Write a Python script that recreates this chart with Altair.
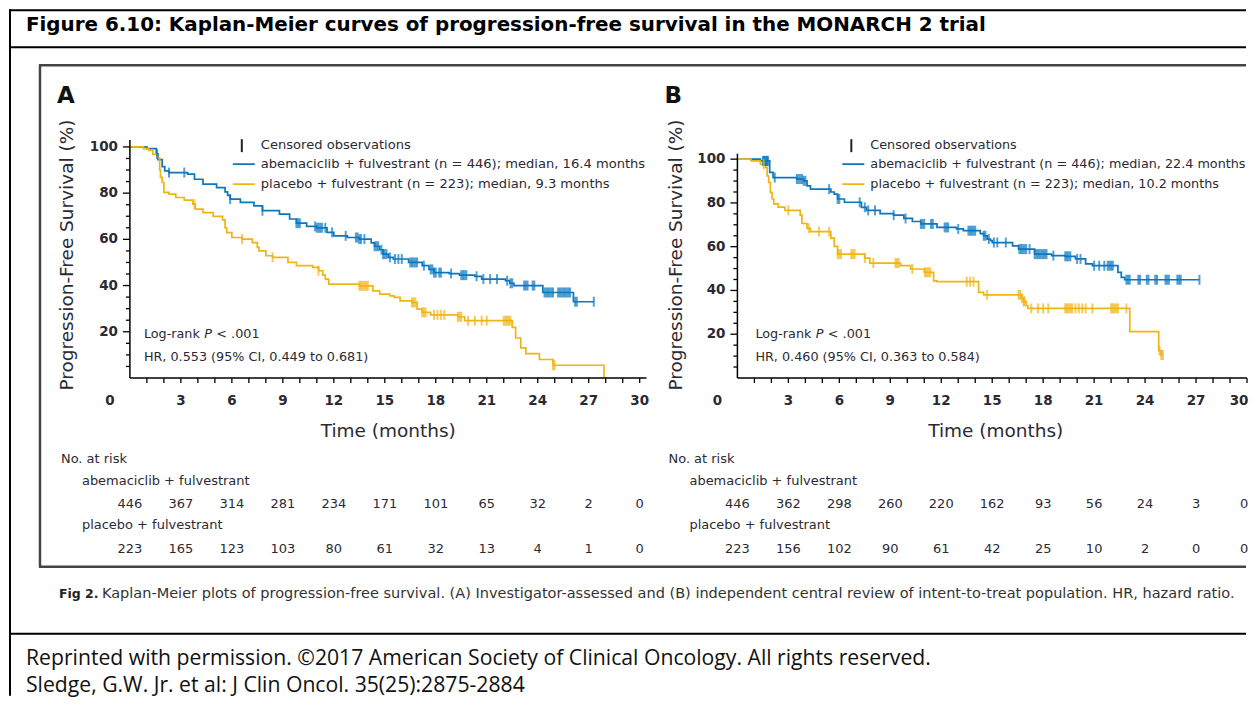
import altair as alt
import pandas as pd

# ---------------- data ----------------
RISK_TIMES = [0, 3, 6, 9, 12, 15, 18, 21, 24, 27, 30]
A_ABEM_RISK = [446, 367, 314, 281, 234, 171, 101, 65, 32, 2, 0]
A_PLAC_RISK = [223, 165, 123, 103, 80, 61, 32, 13, 4, 1, 0]
B_ABEM_RISK = [446, 362, 298, 260, 220, 162, 93, 56, 24, 3, 0]
B_PLAC_RISK = [223, 156, 102, 90, 61, 42, 25, 10, 2, 0, 0]

A_ABEM_T = [0, 1.0, 1.55, 1.65, 1.9, 2.05, 2.3, 3.4, 3.8, 4.3, 5.1, 5.6, 5.75, 5.9, 6.5, 7.3, 7.8, 8.8, 9.4, 9.8,
            10.4, 11.0, 11.6, 12.0, 12.8, 13.5, 14.2, 14.4, 14.7, 14.9, 15.2, 15.5, 16.4, 17.2, 17.6, 17.9, 18.8,
            19.4, 20.3, 20.7, 22.1, 22.35, 22.6, 24.3, 26.1, 27.3]
A_ABEM_S = [100, 99.3, 97, 94.5, 91.5, 89.6, 88.9, 88.2, 86, 83.9, 82.4, 80.5, 79, 77.4, 76, 74.5, 72.4, 70.9, 68.8, 67,
            65.6, 65, 63, 61.5, 60.8, 60.1, 58.5, 57, 55.5, 53.6, 52.2, 51.5, 50, 48.6, 47, 45.6, 45.2,
            44.5, 44, 42.8, 42.1, 41, 40, 37, 33, 33]
A_ABEM_CENS = [1.6, 2.3, 3.2, 5.9, 7.8, 9.8, 9.9, 10.0, 10.9, 11.0, 11.1, 11.2, 11.3, 11.5, 11.9, 12.7, 13.3, 13.4,
               13.5, 13.6, 13.8, 14.4, 14.5, 14.6, 14.8, 14.9, 15.0, 15.1, 15.3, 15.6, 15.8, 16.0, 16.5, 16.6, 16.7,
               16.8, 16.9, 17.3, 17.7, 17.8, 17.9, 18.0, 18.2, 18.3, 18.9, 19.5, 19.6, 19.7, 19.8, 20.4, 20.8, 21.2,
               21.6, 22.2, 22.4, 22.5, 23.2, 23.3, 23.4, 23.7, 23.8, 24.4, 24.5, 24.6, 24.7, 24.8, 24.9, 25.2, 25.3,
               25.4, 25.5, 25.6, 25.7, 25.8, 25.9, 26.2, 26.3, 27.3]

A_PLAC_T = [0, 0.8, 1.1, 1.35, 1.6, 1.75, 1.8, 1.9, 2.0, 2.3, 2.7, 3.2, 3.7, 3.85, 4.3, 4.9, 5.45, 5.6, 5.7, 6.0,
            6.6, 7.2, 7.5, 7.6, 8.0, 8.4, 9.3, 9.8, 10.75, 11.1, 11.35, 11.5, 11.7, 13.5, 14.3, 14.7, 15.3, 15.55,
            15.9, 16.6, 16.9, 17.2, 17.7, 19.3, 19.7, 22.5, 22.7, 23.0, 23.3, 24.1, 24.9, 27.9]
A_PLAC_S = [100, 99.3, 98.5, 96.8, 95.4, 90, 86.8, 84.6, 80.3, 79.6, 78.1, 77, 75.2, 73.1, 71.6, 69.9, 68.4, 65, 62.9,
            60.8, 60.1, 58.6, 56.5, 55, 52.9, 52.2, 50, 48.6, 47.9, 46.4, 44.5, 42.8, 40.6, 39.9, 37.7, 36.3, 35.5,
            34.9, 33.4, 32.7, 29.8, 28.4, 27.3, 26.5, 24.8, 21.9, 17.3, 13, 10.5, 8, 5.5, 0]
A_PLAC_CENS = [3.8, 6.6, 8.4, 11.1, 13.5, 13.6, 13.7, 13.8, 13.9, 14.0, 16.6, 16.7, 16.8, 17.2, 17.3, 17.4, 17.9,
               18.1, 18.3, 18.5, 19.3, 19.4, 19.5, 19.9, 20.3, 20.7, 21.0, 22.0, 22.1, 22.2, 22.3, 22.4, 24.9, 25.0]

B_ABEM_T = [0, 1.35, 1.9, 2.1, 3.5, 3.9, 4.1, 4.3, 5.5, 5.7, 5.9, 6.3, 7.3, 7.6, 8.4, 9.2, 9.8, 10.3, 10.8, 11.75,
            12.9, 13.3, 14.3, 14.5, 14.7, 14.9, 15.0, 16.2, 16.55, 17.5, 18.5, 19.3, 19.9, 20.5, 20.9, 22.4, 22.6,
            22.8, 27.2]
B_ABEM_S = [100, 99.2, 94, 91.6, 90.9, 90.1, 87.8, 86.3, 85, 84, 81.8, 80.3, 78, 76.6, 75.1, 74.4, 72.9, 71.5, 70.4,
            68.8, 68.1, 67.3, 66, 65, 63.5, 62.8, 61.9, 60.4, 58.9, 56.6, 55.9, 55.6, 54.4, 52.1, 51.3, 48.3, 46,
            44.9, 44.9]
B_ABEM_CENS = [1.5, 1.55, 1.6, 1.65, 1.7, 1.75, 1.8, 2.2, 3.5, 3.6, 3.7, 3.8, 3.9, 4.0, 5.4, 5.9, 6.0, 7.2, 7.5, 7.7,
               8.1, 9.2, 9.9, 10.8, 10.9, 11.0, 11.4, 11.5, 12.2, 12.3, 12.4, 13.0, 13.6, 13.7, 13.8, 13.9, 14.0,
               14.5, 14.6, 14.8, 15.1, 15.3, 15.8, 16.6, 16.7, 16.8, 16.9, 17.0, 17.2, 17.5, 17.6, 17.7, 17.8, 17.9,
               18.0, 18.1, 18.2, 18.6, 19.3, 19.4, 19.5, 19.6, 20.0, 20.2, 21.0, 21.3, 21.6, 21.8, 21.9, 22.0, 22.1,
               22.9, 23.0, 23.1, 23.6, 23.7, 24.1, 24.2, 24.6, 24.7, 25.2, 25.3, 25.4, 25.9, 26.0, 26.1, 27.2]

B_PLAC_T = [0, 0.8, 1.35, 1.65, 1.75, 1.84, 1.94, 2.04, 2.14, 2.4, 2.8, 3.7, 3.8, 4.1, 4.3, 5.5, 5.7, 5.9, 7.5, 7.8,
            9.6, 10.2, 11.0, 11.55, 11.75, 14.2, 14.5, 16.7, 16.85, 17.0, 17.1, 23.1, 24.8, 24.95, 25.05]
B_PLAC_S = [100, 99.2, 97.7, 96.2, 92.4, 89.4, 84.8, 81.8, 79.6, 78.1, 76.6, 74.4, 70.6, 68.4, 66.9, 63.9, 60.1, 56.6,
            54.8, 52.5, 51.3, 49.8, 48.3, 44.4, 44, 39.1, 38, 36.5, 35, 33, 31.8, 21.2, 12.5, 10.5, 10.5]
B_PLAC_CENS = [1.55, 3.0, 4.2, 4.8, 5.4, 5.9, 6.0, 6.1, 6.7, 6.8, 6.9, 7.5, 8.0, 9.3, 9.4, 9.5, 10.3, 11.05, 11.15,
               11.25, 11.35, 13.5, 13.7, 13.9, 14.7, 16.55, 16.65, 16.75, 16.85, 16.9, 17.3, 17.7, 18.0, 18.3, 19.3,
               19.4, 19.5, 19.6, 19.7, 19.9, 20.1, 20.3, 20.5, 20.9, 22.0, 22.1, 22.2, 22.3, 22.4, 22.9, 24.85,
               24.95, 25.05]

ARMS = ["abemaciclib + fulvestrant", "placebo + fulvestrant"]
Y_MAJOR = [20, 40, 60, 80, 100]
Y_MINOR = [v for v in range(5, 100, 5) if v % 20 != 0]
X_TICKS = list(range(1, 31))
X_LABELS = list(range(0, 31, 3))

# ---------------- styling ----------------
FONT = "DejaVu Sans"
FOOT_FONT = "Open Sans"
BLUE = "#0b77bf"
YEL = "#f0b414"
TXT = "#2b2a33"
ONE = pd.DataFrame({"k": [0]})
COLOR = alt.Scale(domain=ARMS, range=[BLUE, YEL])
H = 239


def level_at(ts, ss, t):
    s = ss[0]
    for ti, si in zip(ts, ss):
        if ti <= t:
            s = si
        else:
            break
    return s


def txt(s, x, y, size, weight="normal", style="normal", align="left", font=FONT, color=TXT, angle=0):
    return alt.Chart(ONE).mark_text(text=s, align=align, baseline="middle", fontSize=size, font=font,
                                    fontWeight=weight, fontStyle=style, color=color, angle=angle).encode(
        x=alt.value(x), y=alt.value(y))


def hrule(x1, x2, y, w, color):
    return alt.Chart(ONE).mark_rule(strokeWidth=w, color=color).encode(
        x=alt.value(x1), x2=alt.value(x2), y=alt.value(y))


def vrule(x, y1, y2, w, color):
    return alt.Chart(ONE).mark_rule(strokeWidth=w, color=color).encode(
        x=alt.value(x), y=alt.value(y1), y2=alt.value(y2))


def panel(letter, abem, plac, risk_abem, risk_plac, ymax, axis_top, x_max, title_x, leg_x, leg_size, ann_x,
          med_a, med_p, hr, dx30_label, dx30_risk):
    xs = alt.Scale(domain=[0, x_max], nice=False, zero=False)
    ys = alt.Scale(domain=[0, ymax], nice=False, zero=True)

    def X(field):
        return alt.X(field, type="quantitative", scale=xs, axis=None)

    def Y(field):
        return alt.Y(field, type="quantitative", scale=ys, axis=None)

    km = pd.concat([
        pd.DataFrame({"t": abem[0], "s": abem[1], "arm": ARMS[0]}),
        pd.DataFrame({"t": plac[0], "s": plac[1], "arm": ARMS[1]}),
    ])
    cens = pd.concat([
        pd.DataFrame({"t": abem[2], "s": [level_at(abem[0], abem[1], c) for c in abem[2]], "arm": ARMS[0]}),
        pd.DataFrame({"t": plac[2], "s": [level_at(plac[0], plac[1], c) for c in plac[2]], "arm": ARMS[1]}),
    ])
    risk = pd.concat([
        pd.DataFrame({"t": RISK_TIMES, "n": risk_abem, "row": 0}),
        pd.DataFrame({"t": RISK_TIMES, "n": risk_plac, "row": 1}),
    ])

    lines = alt.Chart(km).mark_line(interpolate="step-after", strokeWidth=1.7).encode(
        x=X("t"), y=Y("s"), color=alt.Color("arm:N", scale=COLOR, legend=None))
    ticks = alt.Chart(cens).mark_tick(orient="vertical", size=10, thickness=2).encode(
        x=X("t"), y=Y("s"), color=alt.Color("arm:N", scale=COLOR, legend=None))

    # axes drawn from the scales
    ydom = alt.Chart(pd.DataFrame({"y0": [0], "y1": [axis_top]})).mark_rule(
        color="black", strokeWidth=1.5).encode(x=alt.value(0), y=Y("y0"), y2="y1:Q")
    xdom = alt.Chart(pd.DataFrame({"x0": [0], "x1": [x_max]})).mark_rule(
        color="black", strokeWidth=1.5).encode(x=X("x0"), x2="x1:Q", y=alt.value(H))
    ymin = alt.Chart(pd.DataFrame({"v": Y_MINOR})).mark_rule(color="black", strokeWidth=1.3).encode(
        x=alt.value(-4), x2=alt.value(0), y=Y("v"))
    ymaj = alt.Chart(pd.DataFrame({"v": Y_MAJOR})).mark_rule(color="black", strokeWidth=1.3).encode(
        x=alt.value(-7), x2=alt.value(0), y=Y("v"))
    ylab = alt.Chart(pd.DataFrame({"v": Y_MAJOR})).mark_text(
        font=FONT, fontSize=13.5, fontWeight="bold", color=TXT, align="right", baseline="middle").encode(
        x=alt.value(-12), y=Y("v"), text="v:Q")
    xtk = alt.Chart(pd.DataFrame({"t": X_TICKS})).mark_rule(color="black", strokeWidth=1.3).encode(
        x=X("t"), y=alt.value(H), y2=alt.value(H + 5))

    xlab_df = pd.DataFrame({"t": X_LABELS})

    def xlabels(df, dx):
        return alt.Chart(df).mark_text(
            font=FONT, fontSize=13.5, fontWeight="bold", color=TXT, align="center", baseline="middle",
            dx=dx).encode(x=X("t"), y=alt.value(H + 23), text="t:Q")

    xlab_mid = xlabels(xlab_df[(xlab_df.t > 0) & (xlab_df.t < 30)], 0)
    xlab_0 = xlabels(xlab_df[xlab_df.t == 0], -20)
    xlab_30 = xlabels(xlab_df[xlab_df.t == 30], dx30_label)

    def risk_row(df, y, dx):
        return alt.Chart(df).mark_text(font=FONT, fontSize=13, color=TXT, dx=dx).encode(
            x=X("t"), y=alt.value(y), text="n:Q")

    r0 = risk[risk.row == 0]
    r1 = risk[risk.row == 1]
    risk_layers = [risk_row(r0[r0.t < 30], 365, 0), risk_row(r0[r0.t == 30], 365, dx30_risk),
                   risk_row(r1[r1.t < 30], 410, 0), risk_row(r1[r1.t == 30], 410, dx30_risk)]

    layers = [lines, ticks, ydom, xdom, ymin, ymaj, ylab, xtk, xlab_mid, xlab_0, xlab_30] + risk_layers + [
        # axis titles
        txt("Progression-Free Survival (%)", title_x, 116, 18.5, align="center", angle=270),
        txt("Time (months)", 258.5, H + 53, 18.5, align="center"),
        # legend
        vrule(leg_x - 19, 0, 13, 2, "#222"),
        txt("Censored observations", leg_x, 6, leg_size),
        hrule(leg_x - 28, leg_x - 6, 25, 1.8, BLUE),
        txt(f"abemaciclib + fulvestrant (n = 446); median, {med_a} months", leg_x, 25, leg_size),
        hrule(leg_x - 28, leg_x - 6, 45, 1.8, YEL),
        txt(f"placebo + fulvestrant (n = 223); median, {med_p} months", leg_x, 45, leg_size),
        # statistics
        txt("Log-rank", ann_x, 195, 12.8),
        txt("P", ann_x + 60.4, 195, 12.8, style="italic"),
        txt("< .001", ann_x + 72.5, 195, 12.8),
        txt(hr, ann_x, 218, 12.8),
        # at-risk labels
        txt("No. at risk", -69, 320, 13),
        txt(ARMS[0], -48, 342, 13),
        txt(ARMS[1], -48, 386, 13),
        # panel letter
        txt(letter, -73, -43, 23, weight="bold", color="#111"),
    ]
    return layers


A_layers = panel("A", (A_ABEM_T, A_ABEM_S, A_ABEM_CENS), (A_PLAC_T, A_PLAC_S, A_PLAC_CENS),
                 A_ABEM_RISK, A_PLAC_RISK, 239 / 2.3125, 103, 30.4, -63, 131, 13.1, 14, "16.4", "9.3",
                 "HR, 0.553 (95% CI, 0.449 to 0.681)", 0, 0)
B_layers = panel("B", (B_ABEM_T, B_ABEM_S, B_ABEM_CENS), (B_PLAC_T, B_PLAC_S, B_PLAC_CENS),
                 B_ABEM_RISK, B_PLAC_RISK, 239 / 2.19, 102.5, 30.0, -61, 133, 12.8, 18, "22.4", "10.2",
                 "HR, 0.460 (95% CI, 0.363 to 0.584)", -8, -3)

RIGHT = 1117
frame = [
    # outer frame
    vrule(-120, -130, 557, 2, "#000"),
    hrule(-121, RIGHT, -129, 2, "#000"),
    hrule(-121, RIGHT, -92, 2, "#000"),
    hrule(-121, RIGHT, 495, 2, "#000"),
    # inner figure box
    vrule(-90, -74, 428, 2.5, "#444"),
    hrule(-91, RIGHT, -74, 2.5, "#444"),
    hrule(-91, RIGHT, 428, 2.5, "#444"),
    # texts
    txt("Figure 6.10: Kaplan-Meier curves of progression-free survival in the MONARCH 2 trial",
        -104, -114, 19.9, weight="bold", color="#000"),
    txt("Fig 2.", -71, 455, 12.5, weight="bold", color="#222"),
    txt("Kaplan-Meier plots of progression-free survival. (A) Investigator-assessed and (B) independent "
        "central review of intent-to-treat population. HR, hazard ratio.", -28, 455, 14.55, color="#333"),
    txt("Reprinted with permission. \u00a92017 American Society of Clinical Oncology. All rights reserved.",
        -104, 520, 21.2, font=FOOT_FONT, color="#111"),
    txt("Sledge, G.W. Jr. et al: J Clin Oncol. 35(25):2875-2884", -104, 547, 21.2, font=FOOT_FONT, color="#111"),
]

chart_a = alt.layer(*(A_layers + frame)).properties(width=517, height=H)
chart_b = alt.layer(*B_layers).properties(width=510, height=H)

chart = alt.hconcat(chart_a, chart_b, spacing=91, bounds="flush").properties(
    padding=0, background="white"
).configure_view(stroke=None)

chart.save("out.html", embed_options={"renderer": "svg", "actions": False})
